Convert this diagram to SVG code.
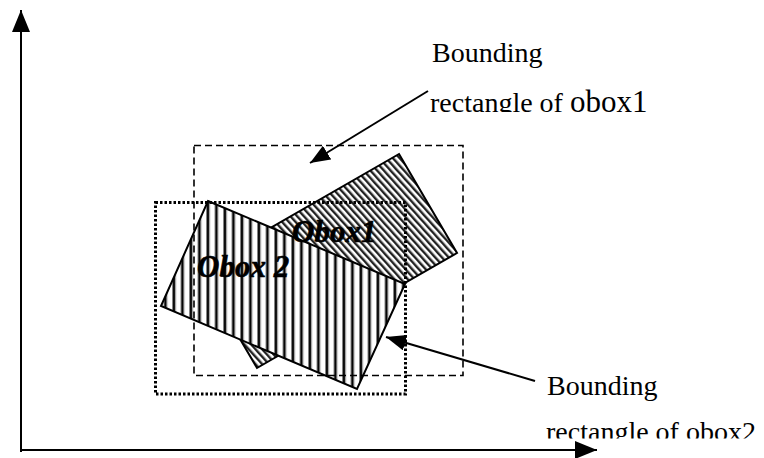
<svg xmlns="http://www.w3.org/2000/svg" width="764" height="458" viewBox="0 0 764 458">
  <style>
    .label { font-family: "Liberation Serif", "Times New Roman", serif; font-size: 28px; fill: #000; }
    .oname { font-family: "Liberation Serif", "Times New Roman", serif; font-size: 31px; font-weight: bold; font-style: italic; fill: #000; stroke: #000; stroke-width: 0.6; }
    .outline { stroke: #000; stroke-width: 2; stroke-linejoin: miter; }
    .conn { stroke: #000; stroke-width: 2; fill: none; }
  </style>
  <defs>
    <pattern id="diag" patternUnits="userSpaceOnUse" width="5" height="5" patternTransform="rotate(-42)">
      <rect x="0" y="0" width="5" height="5" fill="#fff"/>
      <rect x="0" y="0" width="2.4" height="5" fill="#222"/>
    </pattern>
    <pattern id="vert" patternUnits="userSpaceOnUse" width="8.5" height="10" x="2">
      <rect x="0" y="0" width="8.5" height="10" fill="#fff"/>
      <rect x="0" y="0" width="1" height="10" fill="#888"/>
      <rect x="1" y="0" width="2" height="10" fill="#000"/>
      <rect x="3" y="0" width="1" height="10" fill="#888"/>
    </pattern>
    <marker id="ah" viewBox="0 0 20 16" refX="20" refY="8" markerWidth="20" markerHeight="16" markerUnits="userSpaceOnUse" orient="auto">
      <path d="M0,0 L20,8 L0,16 Z" fill="#000"/>
    </marker>
    <marker id="axh" viewBox="0 0 22 18" refX="22" refY="9" markerWidth="22" markerHeight="18" markerUnits="userSpaceOnUse" orient="auto">
      <path d="M0,0 L22,9 L0,18 Z" fill="#000"/>
    </marker>
    <clipPath id="clipTop"><rect x="400" y="70" width="300" height="42"/></clipPath>
    <clipPath id="clipBot"><rect x="520" y="400" width="244" height="38.5"/></clipPath>
  </defs>

  <g id="axes">
    <line class="conn" x1="21" y1="452" x2="21" y2="10" marker-end="url(#axh)"/>
    <line class="conn" x1="20" y1="450" x2="597" y2="450" marker-end="url(#axh)"/>
  </g>

  <g id="obox1">
    <polygon class="outline" points="399,154 457,253 257,368 199,269" fill="url(#diag)"/>
  </g>

  <g id="obox2">
    <polygon class="outline" points="208,201 405,284 357,389 161,306" fill="url(#vert)"/>
  </g>

  <g id="bounding1">
    <rect x="194" y="145.5" width="269" height="230" fill="none" stroke="#000" stroke-width="1.6" stroke-dasharray="7 4"/>
  </g>

  <g id="bounding2">
    <rect x="155.5" y="202.5" width="250" height="191.5" fill="none" stroke="#000" stroke-width="3" stroke-dasharray="2.5 2"/>
  </g>

  <g id="obox-labels">
    <text class="oname" x="292" y="242">Obox1</text>
    <text class="oname" x="197" y="277">Obox 2</text>
  </g>

  <g id="label1">
    <text class="label" x="432" y="62">Bounding</text>
    <text class="label" x="430" y="112" clip-path="url(#clipTop)">rectangle of <tspan font-size="31">obox1</tspan></text>
  </g>

  <g id="label2">
    <text class="label" x="547" y="395">Bounding</text>
    <text class="label" x="546" y="441" clip-path="url(#clipBot)">rectangle of obox2</text>
  </g>

  <g id="connectors">
    <line class="conn" x1="428" y1="91" x2="310" y2="163" marker-end="url(#ah)"/>
    <line class="conn" x1="535" y1="381" x2="386" y2="337" marker-end="url(#ah)"/>
  </g>
</svg>
